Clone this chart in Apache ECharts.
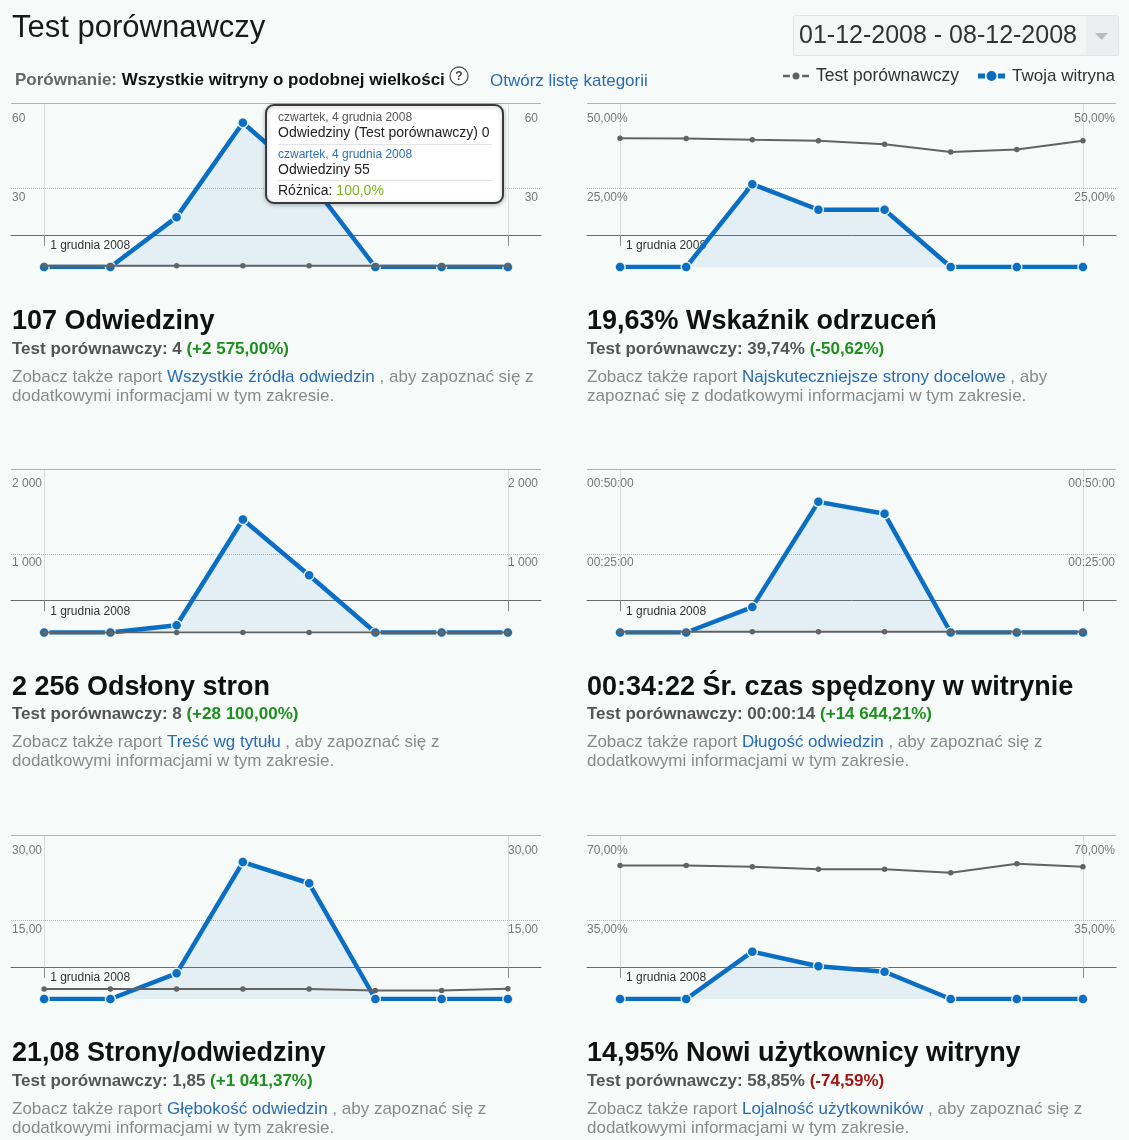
<!DOCTYPE html>
<html>
<head>
<meta charset="utf-8">
<script src="https://cdn.jsdelivr.net/npm/echarts@6.0.0/dist/echarts.min.js"></script>
<style>
html,body{margin:0;padding:0;background:#f6faf8;}
#c{width:1129px;height:1140px;}
</style>
</head>
<body>
<div id="c"></div>
<script>
// ---------- DATA ----------
const days = ['1 grudnia 2008','2 grudnia 2008','3 grudnia 2008','4 grudnia 2008','5 grudnia 2008','6 grudnia 2008','7 grudnia 2008','8 grudnia 2008'];

const visitsSite = [0, 0, 19, 55, 33, 0, 0, 0];
const visitsBench = [0.5, 0.5, 0.5, 0.5, 0.5, 0.5, 0.5, 0.5];
const visitsMax = 60;
const visitsTicks = ['', '30', '60'];

const bounceSite = [0, 0, 26.32, 18.18, 18.18, 0, 0, 0];
const bounceBench = [40.9, 40.8, 40.4, 40.1, 39.0, 36.5, 37.3, 40.1];
const bounceMax = 50;
const bounceTicks = ['', '25,00%', '50,00%'];

const pageviewsSite = [0, 0, 93, 1435, 728, 0, 0, 0];
const pageviewsBench = [1, 1, 1, 1, 1, 1, 1, 1];
const pageviewsMax = 2000;
const pageviewsTicks = ['', '1 000', '2 000'];

const timeSite = [0, 0, 484, 2490, 2262, 0, 0, 0];          // seconds
const timeBench = [14, 14, 14, 14, 14, 14, 14, 14];
const timeMax = 3000;
const timeTicks = ['', '00:25:00', '00:50:00'];

const ppvSite = [0, 0, 4.89, 26.09, 22.06, 0, 0, 0];
const ppvBench = [1.9, 1.9, 1.9, 1.92, 1.9, 1.6, 1.6, 1.95];
const ppvMax = 30;
const ppvTicks = ['', '15,00', '30,00'];

const newSite = [0, 0, 21.05, 14.55, 12.12, 0, 0, 0];
const newBench = [59.4, 59.4, 58.8, 57.7, 57.7, 56.1, 60.2, 58.8];
const newMax = 70;
const newTicks = ['', '35,00%', '70,00%'];

const headings = ['107 Odwiedziny', '19,63% Wskaźnik odrzuceń', '2 256 Odsłony stron', '00:34:22 Śr. czas spędzony w witrynie', '21,08 Strony/odwiedziny', '14,95% Nowi użytkownicy witryny'];
const benchTexts = ['Test porównawczy: 4 ', 'Test porównawczy: 39,74% ', 'Test porównawczy: 8 ', 'Test porównawczy: 00:00:14 ', 'Test porównawczy: 1,85 ', 'Test porównawczy: 58,85% '];
const diffTexts = ['(+2 575,00%)', '(-50,62%)', '(+28 100,00%)', '(+14 644,21%)', '(+1 041,37%)', '(-74,59%)'];
const diffGood = [true, true, true, true, true, false];
const linkTexts = ['Wszystkie źródła odwiedzin', 'Najskuteczniejsze strony docelowe', 'Treść wg tytułu', 'Długość odwiedzin', 'Głębokość odwiedzin', 'Lojalność użytkowników'];
const linkAfter = [' , aby zapoznać się z', ' , aby', ' , aby zapoznać się z', ' , aby zapoznać się z', ' , aby zapoznać się z', ' , aby zapoznać się z'];
const secondLines = ['dodatkowymi informacjami w tym zakresie.', 'zapoznać się z dodatkowymi informacjami w tym zakresie.', 'dodatkowymi informacjami w tym zakresie.', 'dodatkowymi informacjami w tym zakresie.', 'dodatkowymi informacjami w tym zakresie.', 'dodatkowymi informacjami w tym zakresie.'];

const tooltipLines = ['czwartek, 4 grudnia 2008', 'Odwiedziny (Test porównawczy) 0', 'czwartek, 4 grudnia 2008', 'Odwiedziny 55', 'Różnica: ', '100,0%'];

// ---------- LAYOUT ----------
const FONT = "'Liberation Sans', Arial, Helvetica, sans-serif";
const BLUE = '#0a6ec4';
const GREY = '#636363';
const COLS = [{left: 11, width: 530, text: 12}, {left: 587, width: 529, text: 587}];
const ROWS = [0, 365.5, 732];

const panels = [
  {col: 0, row: 0, site: visitsSite, bench: visitsBench, max: visitsMax, ticks: visitsTicks},
  {col: 1, row: 0, site: bounceSite, bench: bounceBench, max: bounceMax, ticks: bounceTicks},
  {col: 0, row: 1, site: pageviewsSite, bench: pageviewsBench, max: pageviewsMax, ticks: pageviewsTicks},
  {col: 1, row: 1, site: timeSite, bench: timeBench, max: timeMax, ticks: timeTicks},
  {col: 0, row: 2, site: ppvSite, bench: ppvBench, max: ppvMax, ticks: ppvTicks},
  {col: 1, row: 2, site: newSite, bench: newBench, max: newMax, ticks: newTicks}
];

const grid = [], xAxis = [], yAxis = [], series = [], graphic = [];

panels.forEach((p, k) => {
  const c = COLS[p.col], off = ROWS[p.row];
  // decoration grid (frame, date axis)
  const gA = grid.length;
  grid.push({left: c.left, width: c.width, top: 103.5 + off, height: 131.5});
  // data grid
  const gB = grid.length;
  grid.push({left: c.left, width: c.width, top: 109.6 + off, height: 157.4});

  const xA = xAxis.length;
  xAxis.push({
    type: 'category', gridIndex: gA, data: days, boundaryGap: true, z: 0,
    axisLine: {show: true, lineStyle: {color: '#6b6b6b', width: 1}},
    axisTick: {show: true, alignWithLabel: true, interval: (i) => i === 0 || i === days.length - 1, length: 11, lineStyle: {color: '#8a8a8a'}},
    axisLabel: {show: true, interval: (i) => i === 0, align: 'left', margin: 5, padding: [0, 0, 0, 6], fontSize: 12, color: '#333', fontFamily: FONT},
    splitLine: {show: false}
  });
  const yA = yAxis.length;
  yAxis.push({type: 'value', gridIndex: gA, min: 0, max: 1, show: false});

  const xB = xAxis.length;
  xAxis.push({type: 'category', gridIndex: gB, data: days, boundaryGap: true, show: false});
  const fmt = (v) => (v === 0 ? p.ticks[0] : (v === p.max / 2 ? p.ticks[1] : p.ticks[2]));
  const yL = yAxis.length;
  yAxis.push({
    type: 'value', gridIndex: gB, min: 0, max: p.max, interval: p.max / 2, position: 'left', z: 2,
    axisLine: {show: false}, axisTick: {show: false},
    splitLine: {show: true, lineStyle: {type: 'dotted', width: 1, color: ['rgba(0,0,0,0)', '#b5b5b5', 'rgba(0,0,0,0)']}},
    axisLabel: {formatter: fmt, align: 'left', verticalAlign: 'top', margin: p.col ? 0 : -1, padding: [3, 0, 0, 0], fontSize: 12, color: '#777', fontFamily: FONT}
  });
  const yR = yAxis.length;
  yAxis.push({
    type: 'value', gridIndex: gB, min: 0, max: p.max, interval: p.max / 2, position: 'right', z: 2,
    axisLine: {show: false}, axisTick: {show: false}, splitLine: {show: false},
    axisLabel: {formatter: fmt, align: 'right', verticalAlign: 'top', margin: p.col ? -1 : -3, padding: [3, 0, 0, 0], fontSize: 12, color: '#777', fontFamily: FONT}
  });

  // frame lines
  series.push({
    type: 'line', xAxisIndex: xA, yAxisIndex: yA, data: [], silent: true, z: 0,
    markLine: {
      silent: true, symbol: 'none', label: {show: false}, animation: false, z: 0,
      data: [
        {xAxis: days[0], lineStyle: {color: '#dedede', width: 1, type: 'solid'}},
        {xAxis: days[days.length - 1], lineStyle: {color: '#dedede', width: 1, type: 'solid'}},
        {yAxis: 1, lineStyle: {color: '#b3b3b3', width: 1.2, type: 'solid'}}
      ]
    }
  });
  // site series
  series.push({
    type: 'line', name: 'Twoja witryna', xAxisIndex: xB, yAxisIndex: yL, data: p.site,
    symbol: 'circle', symbolSize: 10, showAllSymbol: true, silent: true, z: 3,
    lineStyle: {color: BLUE, width: 4.5},
    itemStyle: {color: BLUE, borderColor: 'rgba(255,255,240,0.85)', borderWidth: 1.5},
    areaStyle: {color: 'rgba(40,130,210,0.12)'}
  });
  // benchmark series
  series.push({
    type: 'line', name: 'Test porównawczy', xAxisIndex: xB, yAxisIndex: yL, data: p.bench,
    symbol: 'circle', symbolSize: 5.5, showAllSymbol: true, silent: true, z: 4,
    lineStyle: {color: GREY, width: 2},
    itemStyle: {color: GREY}
  });

  // texts
  const tx = c.text;
  graphic.push({type: 'text', x: tx, y: 322 + off, style: {text: headings[k], font: 'bold 27px ' + FONT, fill: '#111', align: 'left', verticalAlign: 'middle'}});
  graphic.push({type: 'text', x: tx, y: 349 + off, style: {
    text: '{a|' + benchTexts[k] + '}{b|' + diffTexts[k] + '}', align: 'left', verticalAlign: 'middle', font: 'bold 17px ' + FONT,
    rich: {a: {fill: '#555', font: 'bold 17px ' + FONT}, b: {fill: diffGood[k] ? '#1e8f1e' : '#a31515', font: 'bold 17px ' + FONT}}
  }});
  graphic.push({type: 'text', x: tx, y: 377 + off, style: {
    text: '{a|Zobacz także raport }{l|' + linkTexts[k] + '}{a|' + linkAfter[k] + '}', align: 'left', verticalAlign: 'middle', font: '17px ' + FONT,
    rich: {a: {fill: '#8a8a8a', font: '17px ' + FONT}, l: {fill: '#2a6cb0', font: '17px ' + FONT}}
  }});
  graphic.push({type: 'text', x: tx, y: 396 + off, style: {text: secondLines[k], font: '17px ' + FONT, fill: '#8a8a8a', align: 'left', verticalAlign: 'middle'}});
});

// header
graphic.push({type: 'text', x: 12, y: 28, style: {text: 'Test porównawczy', font: '31px ' + FONT, fill: '#1a1a1a', align: 'left', verticalAlign: 'middle'}});
graphic.push({type: 'text', x: 15, y: 80, style: {
  text: '{a|Porównanie: }{b|Wszystkie witryny o podobnej wielkości}', align: 'left', verticalAlign: 'middle', font: 'bold 17px ' + FONT,
  rich: {a: {fill: '#666', font: 'bold 17px ' + FONT}, b: {fill: '#111', font: 'bold 17px ' + FONT}}
}});
graphic.push({type: 'circle', shape: {cx: 459, cy: 76, r: 9}, style: {fill: '#fff', stroke: '#555', lineWidth: 1.3}});
graphic.push({type: 'text', x: 459, y: 76.5, style: {text: '?', font: 'bold 12px ' + FONT, fill: '#444', align: 'center', verticalAlign: 'middle'}});
graphic.push({type: 'text', x: 490, y: 81, style: {text: 'Otwórz listę kategorii', font: '17px ' + FONT, fill: '#2a6cb0', align: 'left', verticalAlign: 'middle'}});

// date box
graphic.push({type: 'rect', shape: {x: 793.5, y: 15.5, width: 325, height: 40, r: 2}, style: {fill: '#f3f6f5', stroke: '#e0e4e3', lineWidth: 1}});
graphic.push({type: 'rect', shape: {x: 1086, y: 16, width: 32, height: 39}, style: {fill: '#eceff0'}});
graphic.push({type: 'polygon', shape: {points: [[1095, 33], [1108, 33], [1101.5, 40]]}, style: {fill: '#b8bcbf'}});
graphic.push({type: 'text', x: 799, y: 36, style: {text: '01-12-2008 - 08-12-2008', font: '25px ' + FONT, fill: '#333', align: 'left', verticalAlign: 'middle'}});

// legend
graphic.push({type: 'line', shape: {x1: 783, y1: 76, x2: 790, y2: 76}, style: {stroke: GREY, lineWidth: 2.5}});
graphic.push({type: 'circle', shape: {cx: 796, cy: 76, r: 3.5}, style: {fill: GREY}});
graphic.push({type: 'line', shape: {x1: 802, y1: 76, x2: 809, y2: 76}, style: {stroke: GREY, lineWidth: 2.5}});
graphic.push({type: 'text', x: 816, y: 76, style: {text: 'Test porównawczy', font: '17.5px ' + FONT, fill: '#333', align: 'left', verticalAlign: 'middle'}});
graphic.push({type: 'rect', shape: {x: 978, y: 73.5, width: 7, height: 5}, style: {fill: BLUE}});
graphic.push({type: 'circle', shape: {cx: 991.5, cy: 76, r: 5}, style: {fill: BLUE}});
graphic.push({type: 'rect', shape: {x: 998, y: 73.5, width: 7, height: 5}, style: {fill: BLUE}});
graphic.push({type: 'text', x: 1012, y: 76, style: {text: 'Twoja witryna', font: '17px ' + FONT, fill: '#333', align: 'left', verticalAlign: 'middle'}});

// static tooltip
graphic.push({type: 'rect', z: 100, shape: {x: 266, y: 105, width: 237, height: 98, r: 8}, style: {fill: '#ffffff', stroke: '#3a3a3a', lineWidth: 2, shadowBlur: 4, shadowColor: 'rgba(0,0,0,0.25)', shadowOffsetY: 1}});
graphic.push({type: 'text', z: 101, x: 278, y: 118, style: {text: tooltipLines[0], font: '12px ' + FONT, fill: '#555', align: 'left', verticalAlign: 'middle'}});
graphic.push({type: 'text', z: 101, x: 278, y: 133, style: {text: tooltipLines[1], font: '14px ' + FONT, fill: '#222', align: 'left', verticalAlign: 'middle'}});
graphic.push({type: 'line', z: 101, shape: {x1: 278, y1: 144.5, x2: 492, y2: 144.5}, style: {stroke: '#e3e3e3', lineWidth: 1}});
graphic.push({type: 'text', z: 101, x: 278, y: 155, style: {text: tooltipLines[2], font: '12px ' + FONT, fill: '#2f72b5', align: 'left', verticalAlign: 'middle'}});
graphic.push({type: 'text', z: 101, x: 278, y: 170, style: {text: tooltipLines[3], font: '14px ' + FONT, fill: '#222', align: 'left', verticalAlign: 'middle'}});
graphic.push({type: 'line', z: 101, shape: {x1: 278, y1: 180.5, x2: 492, y2: 180.5}, style: {stroke: '#e3e3e3', lineWidth: 1}});
graphic.push({type: 'text', z: 101, x: 278, y: 191, style: {
  text: '{a|' + tooltipLines[4] + '}{b|' + tooltipLines[5] + '}', align: 'left', verticalAlign: 'middle', font: '14px ' + FONT,
  rich: {a: {fill: '#222', font: '14px ' + FONT}, b: {fill: '#7ab51d', font: '14px ' + FONT}}
}});

const chart = echarts.init(document.getElementById('c'), null, {renderer: 'canvas'});
chart.setOption({
  animation: false,
  backgroundColor: '#f6faf8',
  textStyle: {fontFamily: FONT},
  grid: grid,
  xAxis: xAxis,
  yAxis: yAxis,
  series: series,
  graphic: graphic
});
</script>
</body>
</html>
